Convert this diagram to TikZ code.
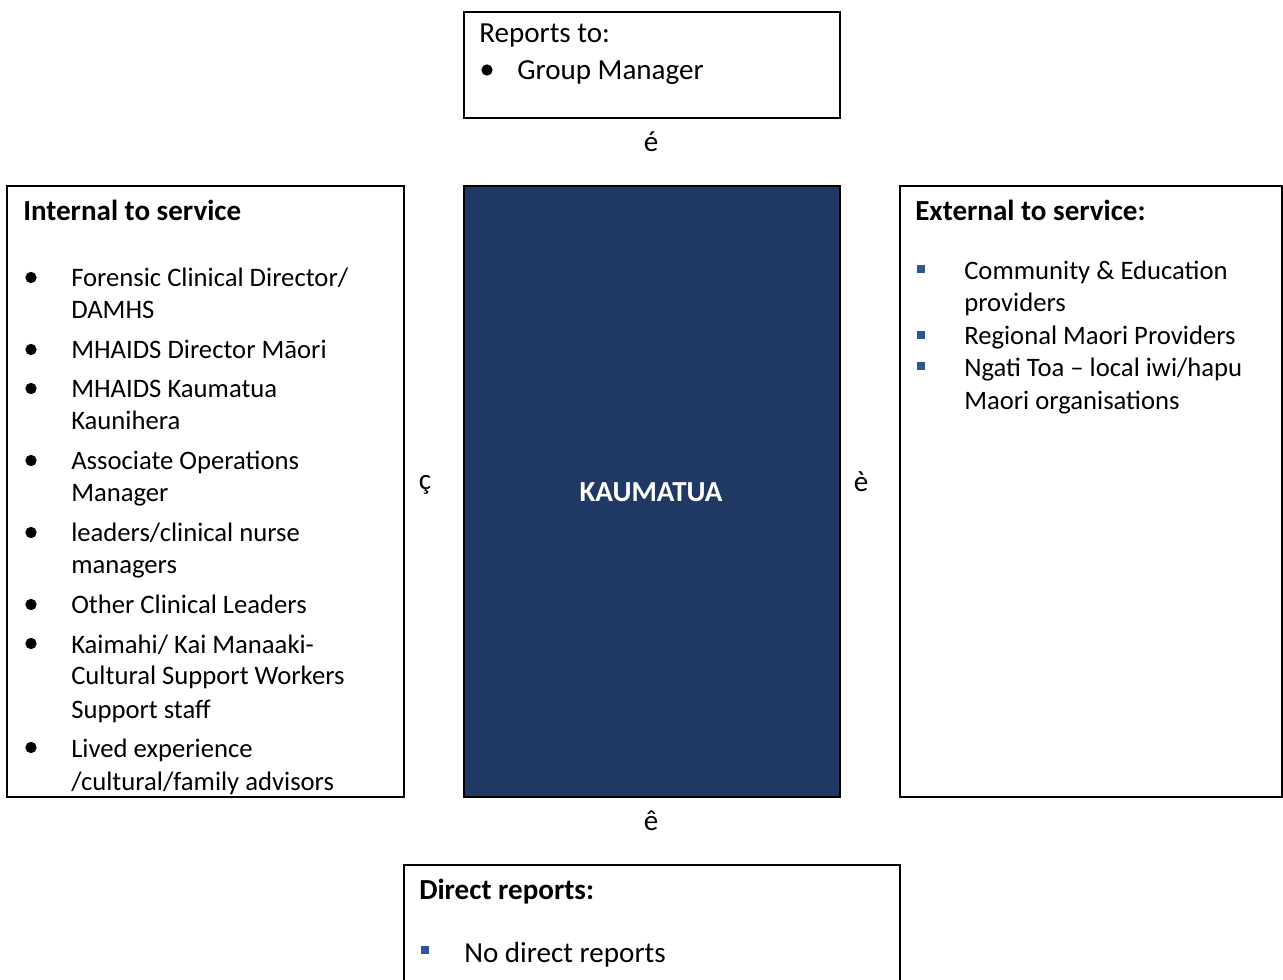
\documentclass[tikz,border=0pt]{standalone}
\usepackage{fontspec}
\setmainfont{Carlito}
\definecolor{navyfill}{HTML}{203864}
\definecolor{bulblue}{HTML}{2F5597}
\tikzset{
  box/.style={draw, line width=1.5pt},
  headtxt/.style={anchor=base west, inner sep=0pt, font=\fontsize{21.8}{26}\selectfont},
  itemtxt/.style={anchor=base west, inner sep=0pt, font=\fontsize{20}{24}\selectfont},
  arrtxt/.style={inner sep=0pt, font=\fontsize{21.8}{26}\selectfont},
  dot/.style={circle, fill=black, inner sep=0pt, minimum size=8.5pt},
  sqbul/.style={rectangle, fill=bulblue, inner sep=0pt, minimum size=6pt}
}
\begin{document}
\begin{tikzpicture}[x=0.75pt,y=-0.75pt]
            \useasboundingbox (0,0) rectangle (1283,980);
            \clip (0,0) rectangle (1283,980);
            \draw[box] (464,12) rectangle (840,118);   %reports to
            \node[headtxt] (rep) at (479,43) {Reports to:};
            \node[dot] (repb) at (487,70) {};
            \node[headtxt] (rep1) at (517,80) {Group Manager};
            \node[arrtxt] (up) at (651,142) {é};
            \draw[box] (7,186) rectangle (404,797);   %internal
            \node[headtxt, font=\fontsize{21.8}{26}\selectfont\bfseries] (int) at (23,221) {Internal to service};
            \node[dot] (intb1) at (31,277.5) {};
            \node[itemtxt] (int1a) at (71,287) {Forensic Clinical Director/};
            \node[itemtxt] (int1b) at (71,319) {DAMHS};
            \node[dot] (intb2) at (31,349.5) {};
            \node[itemtxt] (int2) at (71,359) {MHAIDS Director Māori};
            \node[dot] (intb3) at (31,388.5) {};
            \node[itemtxt] (int3a) at (71,398) {MHAIDS Kaumatua};
            \node[itemtxt] (int3b) at (71,430) {Kaunihera};
            \node[dot] (intb4) at (31,460.5) {};
            \node[itemtxt] (int4a) at (71,470) {Associate Operations};
            \node[itemtxt] (int4b) at (71,502) {Manager};
            \node[dot] (intb5) at (31,532.5) {};
            \node[itemtxt] (int5a) at (71,542) {leaders/clinical nurse};
            \node[itemtxt] (int5b) at (71,574) {managers};
            \node[dot] (intb6) at (31,604.5) {};
            \node[itemtxt] (int6) at (71,614) {Other Clinical Leaders};
            \node[dot] (intb7) at (31,643.5) {};
            \node[itemtxt] (int7a) at (71,653) {Kaimahi/ Kai Manaaki-};
            \node[itemtxt] (int7b) at (71,685) {Cultural Support Workers};
            \node[itemtxt] (int7c) at (71,718) {Support staff};
            \node[dot] (intb8) at (31,747.5) {};
            \node[itemtxt] (int8a) at (71,757) {Lived experience};
            \node[itemtxt] (int8b) at (71,790) {/cultural/family advisors};
            \node[arrtxt] (left) at (425,485) {ç};
            \draw[box, fill=navyfill] (464,186) rectangle (840,797);   %kaumatua
            \node[arrtxt, text=white, font=\fontsize{21.8}{26}\selectfont\bfseries] (kau) at (651,492) {KAUMATUA};
            \node[arrtxt] (right) at (861,482) {è};
            \draw[box] (900,186) rectangle (1282,797);   %external
            \node[headtxt, font=\fontsize{21.8}{26}\selectfont\bfseries] (ext) at (915,221) {External to service:};
            \node[sqbul] (extb1) at (921,269) {};
            \node[itemtxt] (ext1a) at (964,280) {Community \& Education};
            \node[itemtxt] (ext1b) at (964,312) {providers};
            \node[sqbul] (extb2) at (921,335) {};
            \node[itemtxt] (ext2) at (964,345) {Regional Maori Providers};
            \node[sqbul] (extb3) at (921,366) {};
            \node[itemtxt] (ext3a) at (964,377) {Ngati Toa – local iwi/hapu};
            \node[itemtxt] (ext3b) at (964,410) {Maori organisations};
            \node[arrtxt] (down) at (651,821) {ê};
            \draw[box] (404,865) rectangle (900,990);   %direct reports
            \node[headtxt, font=\fontsize{21.8}{26}\selectfont\bfseries] (dir) at (419,899) {Direct reports:};
            \node[sqbul] (dirb) at (425,950) {};
            \node[headtxt] (dir1) at (464,962) {No direct reports};
        \end{tikzpicture}
\end{document}
